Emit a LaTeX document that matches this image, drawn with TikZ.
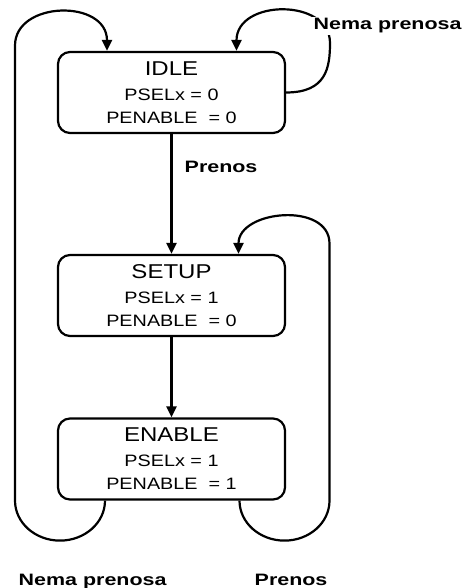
\documentclass[tikz,border=0pt]{standalone}
\usepackage{fontspec}
\usepackage{graphicx}
\usetikzlibrary{arrows.meta}
\setmainfont{Liberation Sans}
% widened lettering, as in the drawing's typeface
\newcommand\widetext[1]{\scalebox{1.2}[1]{#1}}
\newcommand\widebold[1]{\scalebox{1.3}[1]{#1}}
\newcommand\titlesize{\fontsize{20}{24}\selectfont}
\newcommand\sigsize{\fontsize{16.5}{23}\selectfont}
\tikzset{
  statebox/.style={draw, line width=2.2pt, rounded corners=12pt,
    minimum width=227pt, minimum height=81pt, inner sep=0pt,
    align=center, font=\sigsize},
  arr/.style={line width=2.2pt, -{Triangle[length=11pt,width=10pt]}},
  cond/.style={font=\bfseries\fontsize{16.5}{18}\selectfont, inner sep=1.5pt,
    fill=white, anchor=base west}
}
\begin{document}
\begin{tikzpicture}[x=1pt,y=1pt]
  \useasboundingbox (0,0) rectangle (465,-588);

  % the three bus states
  \node[statebox] (idle)   at (171.5,-92.5)
    {\widetext{\titlesize IDLE}\\[2pt] \widetext{PSELx = 0}\\ \widetext{PENABLE\ \ = 0}};
  \node[statebox] (setup)  at (171.5,-295.5)
    {\widetext{\titlesize SETUP}\\[2pt] \widetext{PSELx = 1}\\ \widetext{PENABLE\ \ = 0}};
  \node[statebox] (enable) at (171.5,-459)
    {\widetext{\titlesize ENABLE}\\[2pt] \widetext{PSELx = 1}\\ \widetext{PENABLE\ \ = 1}};

  % straight transitions
  \draw[arr] (idle.south) -- (setup.north);
  \draw[arr] (setup.south) -- (enable.north);

  % IDLE stays idle while no transfer is pending
  \draw[arr] (idle.east) .. controls +(40,0) and +(0,-25) .. (330,-43)
    .. controls +(0,45) and +(0,52) .. ([xshift=65pt]idle.north);

  % ENABLE back to IDLE
  \draw[arr] ([xshift=-66.5pt]enable.south)
    arc[start angle=0, end angle=-180, x radius=45, y radius=40]
    -- ++(0,455)
    .. controls +(0,45) and +(0,52) .. ([xshift=-64.5pt]idle.north);

  % ENABLE back to SETUP
  \draw[arr] ([xshift=68pt]enable.south)
    arc[start angle=180, end angle=360, x radius=45, y radius=40]
    -- ++(0,257)
    .. controls +(0,42) and +(0,44) .. ([xshift=67pt]setup.north);

  % transition conditions
  \node[cond] (l1) at (312,-30)  {\widebold{Nema prenosa}};
  \node[cond] (l2) at (183,-172) {\widebold{Prenos}};
  \node[cond] (l3) at (17,-585)  {\widebold{Nema prenosa}};
  \node[cond] (l4) at (253,-585) {\widebold{Prenos}};
\end{tikzpicture}
\end{document}
